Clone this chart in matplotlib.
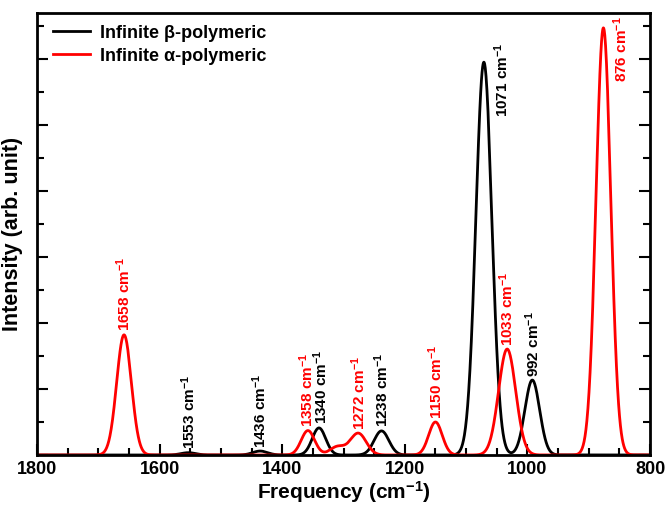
import numpy as np
import matplotlib
matplotlib.use("Agg")
import matplotlib.pyplot as plt
from matplotlib.ticker import MultipleLocator

plt.rcParams['font.family'] = ['Liberation Sans', 'DejaVu Sans']
plt.rcParams['font.weight'] = 'bold'
plt.rcParams['mathtext.fontset'] = 'custom'
plt.rcParams['mathtext.rm'] = 'Liberation Sans:bold'
plt.rcParams['mathtext.it'] = 'Liberation Sans:bold'
plt.rcParams['mathtext.bf'] = 'Liberation Sans:bold'
plt.rcParams['mathtext.default'] = 'rm'

# ---- data ----
beta_freqs = [1553, 1436, 1340, 1238, 1071, 992]
beta_heights = [0.07, 0.12, 0.82, 0.73, 11.9, 2.27]
beta_sigmas = [12, 12, 11, 12, 13, 12]

alpha_freqs = [1658, 1358, 1310, 1276, 1150, 1033, 876]
alpha_heights = [3.64, 0.74, 0.25, 0.66, 1.0, 3.21, 12.94]
alpha_sigmas = [12, 11, 12, 13, 11, 14, 12]

beta_labels = ["1553", "1436", "1340", "1238", "1071", "992"]
alpha_labels = ["1658", "1358", "1272", "1150", "1033", "876"]
# (peak index, label) pairs
beta_label_idx = [0, 1, 2, 3, 4, 5]
alpha_label_idx = [0, 1, 3, 4, 5, 6]

series_names = ["Infinite \u03b2-polymeric", "Infinite \u03b1-polymeric"]


def spectrum(x, freqs, heights, sigmas):
    y = np.zeros_like(x)
    for f, h, s in zip(freqs, heights, sigmas):
        y += h * np.exp(-0.5 * ((x - f) / s) ** 2)
    return y


x = np.linspace(800, 1800, 4001)
yb = spectrum(x, beta_freqs, beta_heights, beta_sigmas)
ya = spectrum(x, alpha_freqs, alpha_heights, alpha_sigmas)

fig = plt.figure(figsize=(6.67, 5.07), dpi=100)
ax = fig.add_axes([37/667, 52/507, 613/667, 442/507])

ax.plot(x, yb, color='black', lw=2.0, label=series_names[0])
ax.plot(x, ya, color='#ff0000', lw=2.0, label=series_names[1])

ax.set_xlim(1800, 800)
ax.set_ylim(0, 13.39)

ax.xaxis.set_major_locator(MultipleLocator(200))
ax.xaxis.set_minor_locator(MultipleLocator(50))
ax.yaxis.set_major_locator(MultipleLocator(2))
ax.yaxis.set_minor_locator(MultipleLocator(1))
ax.tick_params(axis='both', which='both', direction='in', width=1.5)
ax.tick_params(axis='x', which='major', length=8, top=False, labelsize=13, pad=4)
ax.tick_params(axis='x', which='minor', length=5, top=False)
ax.tick_params(axis='y', which='major', length=8, left=True, right=True, labelleft=False)
ax.tick_params(axis='y', which='minor', length=5, left=True, right=True)
for lab in ax.get_xticklabels():
    lab.set_fontweight('bold')
for sp in ax.spines.values():
    sp.set_linewidth(2)

ax.set_xlabel("Frequency (cm$^{-1}$)", fontsize=15, fontweight='bold', labelpad=1)
ax.set_ylabel("Intensity (arb. unit)", fontsize=15.5, fontweight='bold', labelpad=7)

leg = ax.legend(loc='upper left', bbox_to_anchor=(0.0144, 0.99), frameon=False,
                fontsize=13, handlelength=2.05, borderaxespad=0.0,
                labelspacing=0.33, handletextpad=0.55)
for t in leg.get_texts():
    t.set_fontweight('bold')

fs = 11
def peak_label(freqs, heights, idx, text, color, dx=0):
    f = freqs[idx]; h = heights[idx]
    s = text + " cm$^{-1}$"
    if h > 10:
        dy = 14 if h < 12.5 else 8
        ax.annotate(s, xy=(f, h), xytext=(6, dy), textcoords='offset points',
                    rotation=90, ha='left', va='top', color=color,
                    fontsize=fs, fontweight='bold', annotation_clip=False)
    else:
        ax.annotate(s, xy=(f, h), xytext=(dx, 2.5), textcoords='offset points',
                    rotation=90, ha='center', va='bottom', color=color,
                    fontsize=fs, fontweight='bold')

for i, t in zip(beta_label_idx, beta_labels):
    peak_label(beta_freqs, beta_heights, i, t, 'black', dx=1.2 if t == "1340" else 0)
for i, t in zip(alpha_label_idx, alpha_labels):
    peak_label(alpha_freqs, alpha_heights, i, t, '#ff0000', dx=-0.8 if t == "1358" else 0)

fig.savefig("out.png", dpi=100)
